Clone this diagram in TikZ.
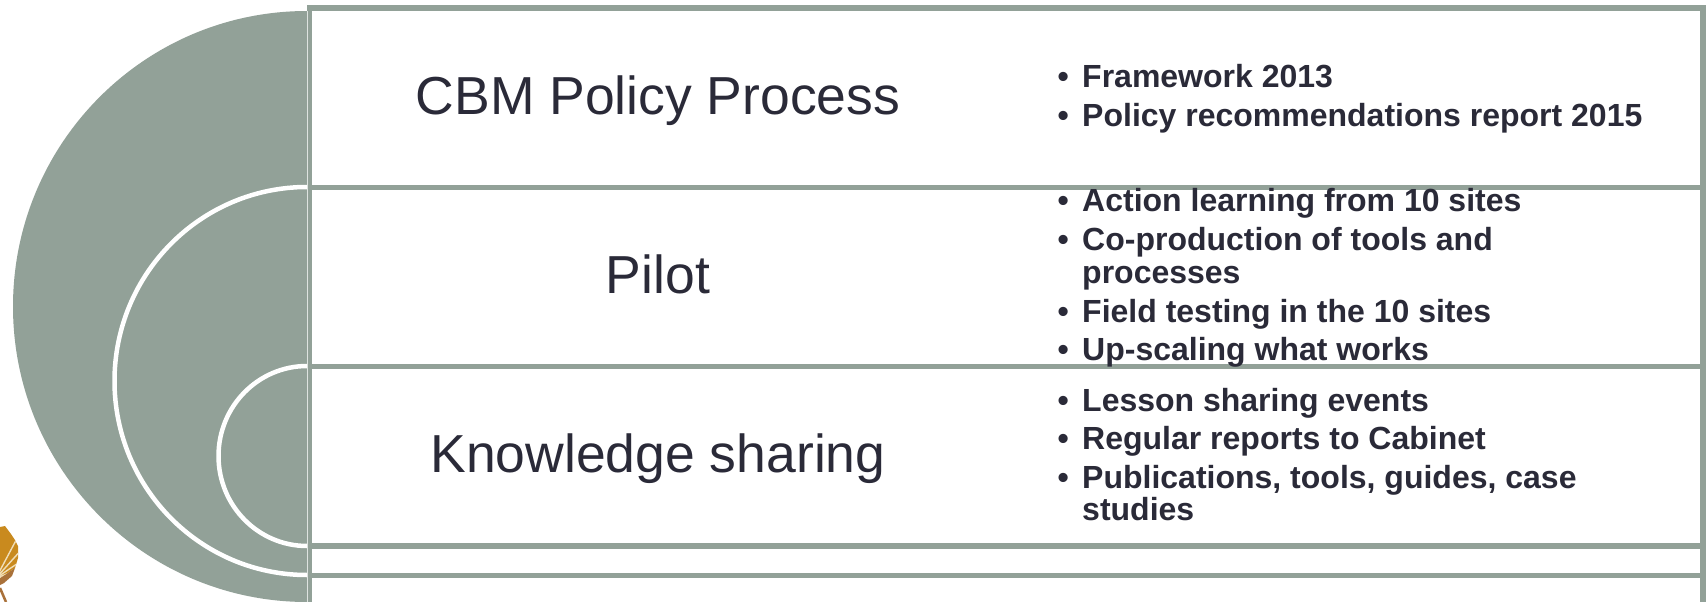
\documentclass[tikz,border=0pt]{standalone}
\usepackage{fontspec}
\setmainfont{Liberation Sans}
\definecolor{sage}{HTML}{92A198}
\definecolor{ink}{HTML}{2A2A38}
\definecolor{gold}{HTML}{C98A1E}
\definecolor{goldb}{HTML}{A9713A}
\definecolor{goldl}{HTML}{F0DDB8}
\tikzset{x=1pt,y=-1pt,
 panel/.style={draw=sage,line width=5.5pt,fill=white},
 title/.style={anchor=base,text=ink,inner sep=0pt,font=\fontsize{53.5}{60}\selectfont},
 item/.style={anchor=base west,text=ink,inner sep=0pt,font=\bfseries\fontsize{32}{36}\selectfont},
 ring/.style={draw=white,line width=4.5pt},
 frond/.style={draw=goldl,line width=1.4pt}}
\begin{document}
\begin{tikzpicture}
\useasboundingbox (0,0) rectangle (1706,602);
\fill[white] (0,0) rectangle (1706,602);
% logo
\fill[gold] (0,527) -- (5,526) -- (11,534) -- (15,540) -- (18,546) -- (18,558) -- (15,568) -- (6,574) -- (0,578) -- cycle;
\fill[goldb] (0,578) -- (6,574) -- (15,568) -- (12,576) -- (4,583) -- (0,585) -- cycle;
\begin{scope}
\clip (0,527) -- (5,526) -- (11,534) -- (15,540) -- (18,546) -- (18,558) -- (15,568) -- (0,578) -- cycle;
\foreach \a in {-62,-48,-34,-20,-6}
  \draw[frond] (-4,578) -- ++(\a:45);
\end{scope}
\draw[goldb,line width=2.5pt] (0,588) -- (6,602);
% panels
\draw[panel] (309.5,8) rectangle (1703,187.5);
\draw[panel] (309.5,187.5) rectangle (1703,366.5);
\draw[panel] (309.5,366.5) rectangle (1703,546);
\draw[panel] (309.5,546) rectangle (1703,575.5);
\draw[panel] (309.5,575.5) rectangle (1703,610);
% arcs
\fill[sage] (307,11) arc[start angle=-90,end angle=-270,x radius=294,y radius=295.5] -- cycle;
\draw[ring] (307,187) arc[start angle=-90,end angle=-270,x radius=192.5,y radius=194];
\draw[ring] (307,366) arc[start angle=-90,end angle=-270,x radius=88.5,y radius=90];
\draw[white!70!sage,line width=0.8pt] (307.2,11) -- (307.2,602);
% titles
\node[title] (t1) at (658,114) {CBM Policy Process};
\node[title] (t2) at (658,293) {Pilot};
\node[title] (t3) at (658,472) {Knowledge sharing};
% items
\foreach \n/\y/\b/\s in {
 a/88/1/Framework 2013,
 b/126.5/1/Policy recommendations report 2015,
 c/211/1/Action learning from 10 sites,
 d/250/1/Co-production of tools and,
 e/283/0/processes,
 f/322/1/Field testing in the 10 sites,
 g/360/1/Up-scaling what works,
 h/411/1/Lesson sharing events,
 i/449/1/Regular reports to Cabinet,
 j/488/1/{Publications, tools, guides, case},
 k/520/0/studies}{
  \node[item] (\n) at (1082,\y) {\s};
  \ifnum\b=1 \node[item] (b\n) at (1057.5,\y) {•}; \fi
}
\end{tikzpicture}
\end{document}
